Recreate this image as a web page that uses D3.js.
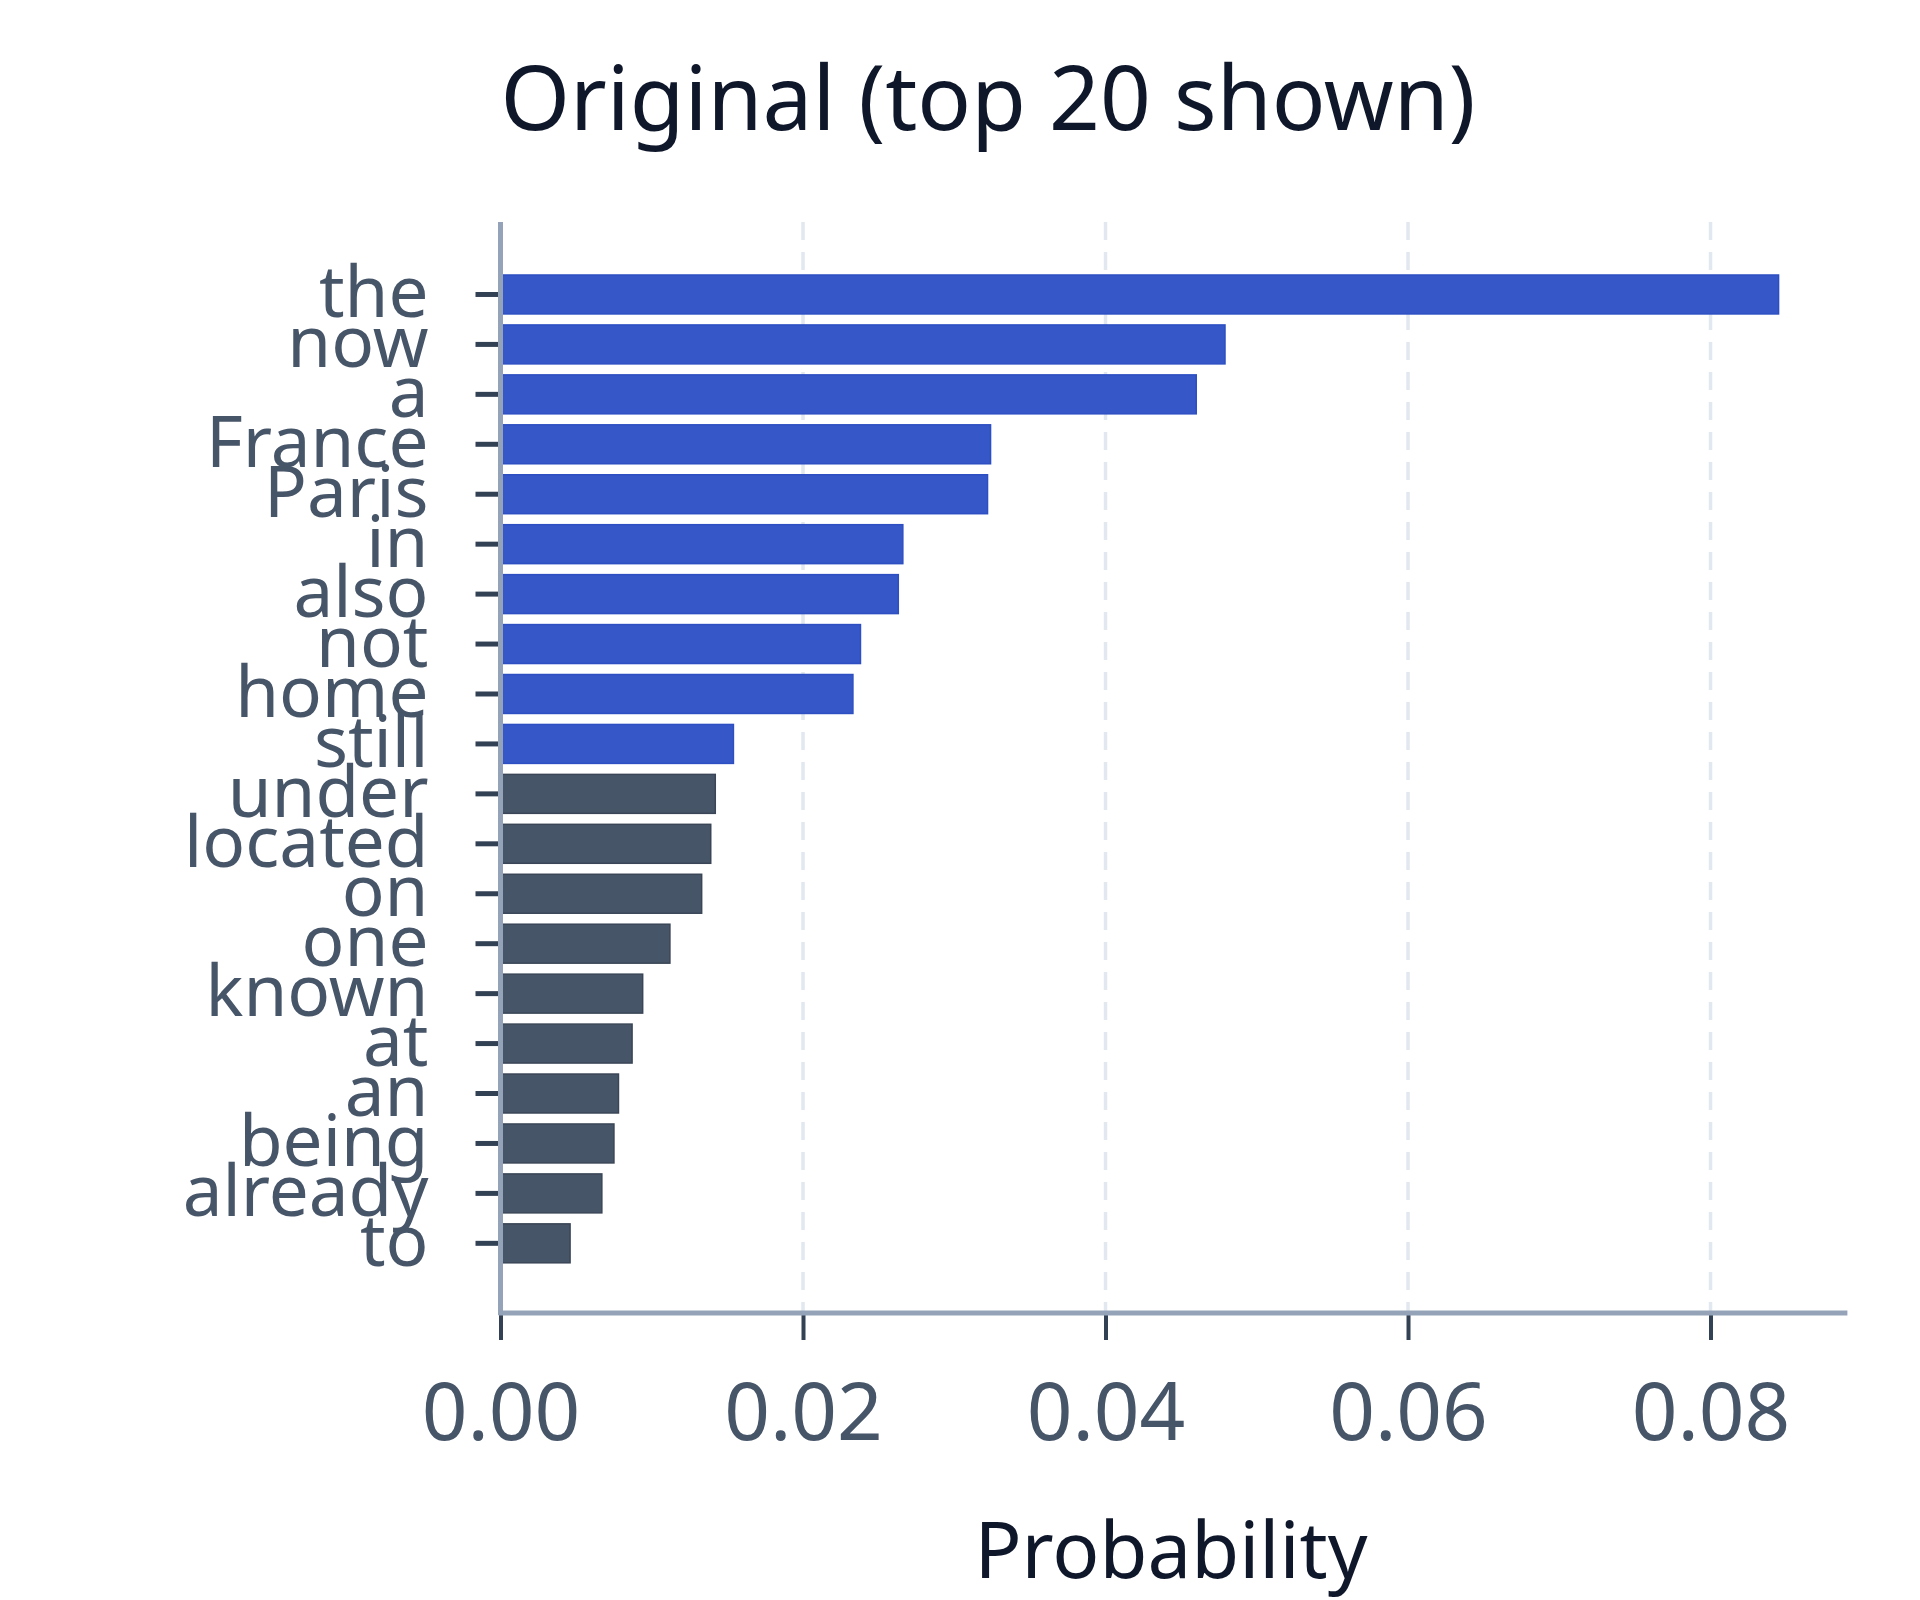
<!DOCTYPE html>
<html>
<head>
<meta charset="utf-8">
<script src="https://cdn.jsdelivr.net/npm/d3@7"></script>
<style>
  html, body { margin: 0; padding: 0; background: #fff; }
  svg { display: block; font-family: "Noto Sans", sans-serif; }
</style>
</head>
<body>
<script>
// top 20 tokens and their probabilities
var tokens = ["the","now","a","France","Paris","in","also","not","home","still",
              "under","located","on","one","known","at","an","being","already","to"];
var probs = [0.0845, 0.0479, 0.0460, 0.0324, 0.0322, 0.0266, 0.0263, 0.0238, 0.0233, 0.0154,
             0.0142, 0.0139, 0.0133, 0.0112, 0.0094, 0.0087, 0.0078, 0.0075, 0.0067, 0.0046];
var highlightCount = 10;          // first ten bars are drawn in blue
var xTicks = [0, 0.02, 0.04, 0.06, 0.08];
var xMax = 0.08905;

var data = tokens.map(function(t, i){ return {token: t, p: probs[i], hi: i < highlightCount}; });

var W = 1920, H = 1600;
var plot = {left: 500.5, right: 1847.4, top: 222, bottom: 1313};

var svg = d3.select("body").append("svg")
    .attr("width", W)
    .attr("height", H);

var x = d3.scaleLinear().domain([0, xMax]).range([plot.left, plot.right]);
var y = d3.scaleBand().domain(tokens).range([269.5, 1268.3])
    .paddingInner(0.22).paddingOuter(0.11);

// dashed vertical grid
svg.append("g").selectAll("line")
    .data(xTicks.filter(function(d){ return d > 0; }))
    .enter().append("line")
      .attr("x1", function(d){ return x(d); })
      .attr("x2", function(d){ return x(d); })
      .attr("y1", plot.top)
      .attr("y2", plot.bottom)
      .attr("stroke", "#e2e8f0")
      .attr("stroke-width", 3.5)
      .attr("stroke-dasharray", "18,12");

// bars
svg.append("g").selectAll("rect")
    .data(data)
    .enter().append("rect")
      .attr("x", x(0))
      .attr("y", function(d){ return y(d.token); })
      .attr("width", function(d){ return x(d.p) - x(0); })
      .attr("height", y.bandwidth())
      .attr("fill", function(d){ return d.hi ? "#3557c8" : "#475569"; })
      .attr("stroke", function(d){ return d.hi ? "#2d4fc2" : "#3a4657"; })
      .attr("stroke-width", 1.5);

// y axis (ticks + labels)
var yAxis = svg.append("g")
    .attr("transform", "translate(" + plot.left + ",0)")
    .call(d3.axisLeft(y).tickSize(25).tickPadding(47));
yAxis.select(".domain").remove();
yAxis.selectAll(".tick line").attr("stroke", "#334155").attr("stroke-width", 5);
yAxis.selectAll(".tick text")
    .attr("fill", "#475569")
    .style("font-size", "71px")
    .style("font-family", "'Noto Sans', sans-serif");

// x axis
var xAxis = svg.append("g")
    .attr("transform", "translate(0," + plot.bottom + ")")
    .call(d3.axisBottom(x).tickValues(xTicks).tickFormat(d3.format(".2f"))
          .tickSize(27).tickPadding(43));
xAxis.select(".domain").remove();
xAxis.selectAll(".tick line").attr("stroke", "#334155").attr("stroke-width", 4);
xAxis.selectAll(".tick text")
    .attr("fill", "#475569")
    .style("font-size", "80px")
    .style("font-family", "'Noto Sans', sans-serif");

// axis lines
svg.append("line")
    .attr("x1", plot.left).attr("x2", plot.left)
    .attr("y1", plot.top).attr("y2", plot.bottom + 2)
    .attr("stroke", "#94a3b8").attr("stroke-width", 5);
svg.append("line")
    .attr("x1", plot.left - 2).attr("x2", plot.right)
    .attr("y1", plot.bottom).attr("y2", plot.bottom)
    .attr("stroke", "#94a3b8").attr("stroke-width", 5);

// titles
svg.append("text")
    .attr("x", 988).attr("y", 130)
    .attr("text-anchor", "middle")
    .attr("fill", "#0f172a")
    .style("font-size", "89px")
    .text("Original (top 20 shown)");

svg.append("text")
    .attr("x", (plot.left + plot.right) / 2 - 3).attr("y", 1578)
    .attr("text-anchor", "middle")
    .attr("fill", "#0f172a")
    .style("font-size", "78px")
    .text("Probability");
</script>
</body>
</html>
